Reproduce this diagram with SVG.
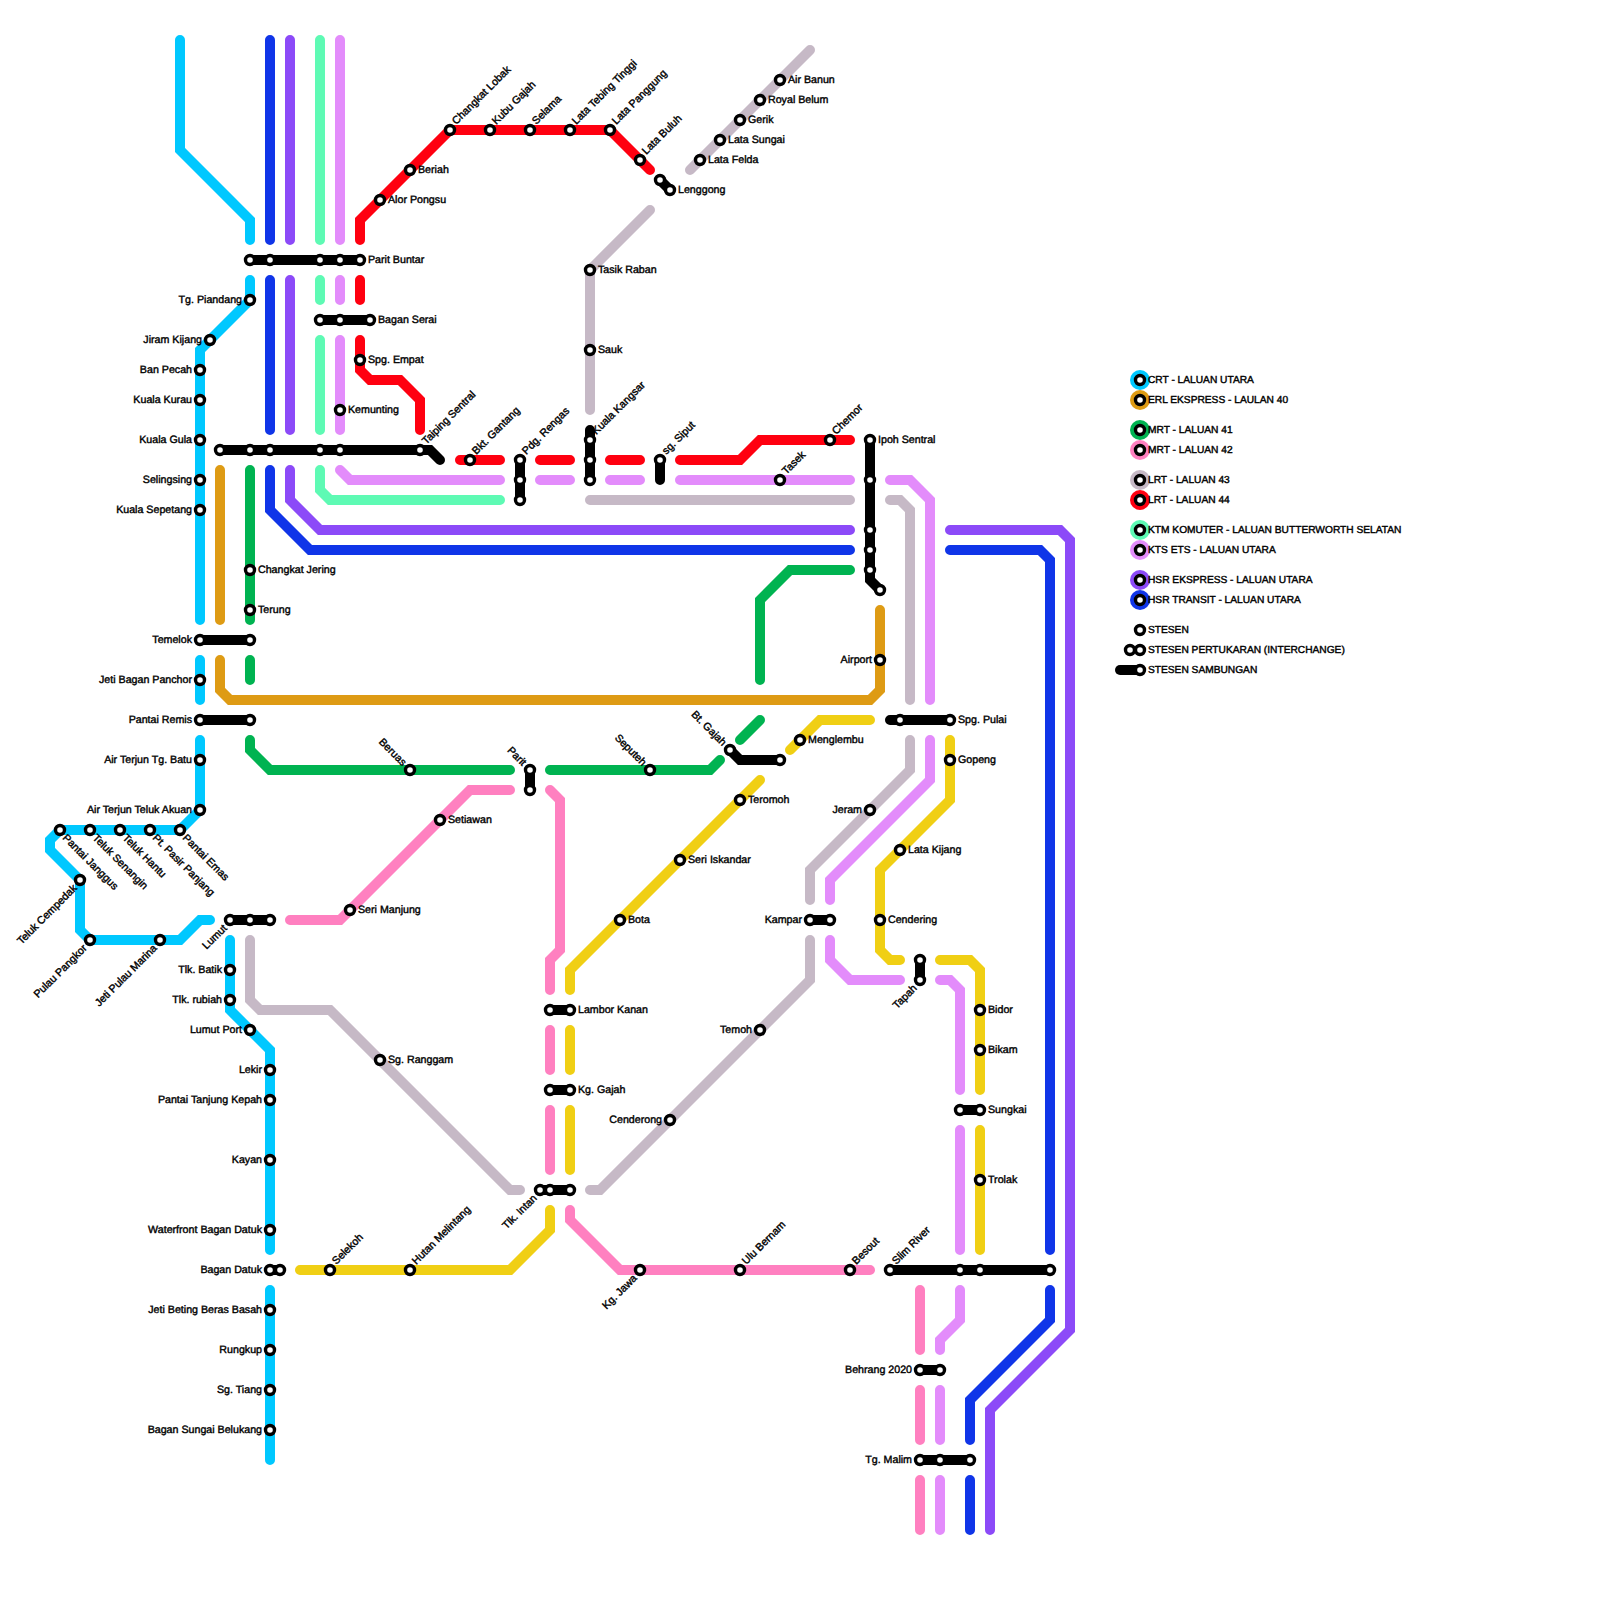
<svg xmlns="http://www.w3.org/2000/svg" width="1600" height="1600" viewBox="0 0 1600 1600">
<style>
text{font-family:"Liberation Sans",Arial,sans-serif;font-size:10.67px;font-weight:400;fill:#000;stroke:#000;stroke-width:.4;text-rendering:geometricPrecision}
#legend text{font-size:10.2px}
.e{text-anchor:end}
.l{fill:none;stroke-width:10;stroke-linecap:round;stroke-linejoin:miter}
.crt{stroke:#00c8ff}.erl{stroke:#de9b14}.m41{stroke:#00b351}.m42{stroke:#ff80c0}.l43{stroke:#c6b9c6}.l44{stroke:#ff0010}.ktm{stroke:#5efab4}.kts{stroke:#e38cfb}.hse{stroke:#8c4af8}.hst{stroke:#1035e8}.blk{stroke:#000}
.s{fill:#fff;stroke:#000;stroke-width:3.4}
</style>
<rect width="1600" height="1600" fill="#fff"/>
<g id="connectors">
<path class="l crt" d="M180 40V150L250 220V240M250 280V300L200 350V620M200 660V700M200 740V810L180 830H60L50 840V850L80 880V930L90 940H180L200 920H210M230 940V1010L270 1050V1250M270 1290V1460"/>
<path class="l hst" d="M270 40V240M270 280V430M270 470V510L310 550H850M950 550H1040L1050 560V1250M1050 1290V1320L970 1400V1440M970 1480V1530"/>
<path class="l hse" d="M290 40V240M290 280V430M290 470V500L320 530H850M950 530H1060L1070 540V1330L990 1410V1530"/>
<path class="l ktm" d="M320 40V240M320 280V300M320 340V430M320 470V490L330 500H500"/>
<path class="l kts" d="M340 40V240M340 280V300M340 340V430M340 470L350 480H500M540 480H570M610 480H640M680 480H850M890 480H910L930 500V700M930 740V780L830 880V900M830 940V960L850 980H900M940 980H950L960 990V1090M960 1130V1250M960 1290V1320L940 1340V1350M940 1390V1440M940 1480V1530"/>
<path class="l l44" d="M360 240V220L450 130H610L650 170M360 280V300M360 340V370L370 380H400L420 400V430M460 460H500M540 460H570M610 460H640M680 460H740L760 440H850"/>
<path class="l l43" d="M810 50L690 170M650 210L590 270V410M590 500H850M890 500H900L910 510V700M910 740V770L810 870V900M810 940V980L600 1190H590M250 940V1000L260 1010H330L510 1190H520"/>
<path class="l erl" d="M220 470V620M220 660V690L230 700H870L880 690V610"/>
<path class="l m41" d="M250 470V620M250 660V680M250 740V750L270 770H510M550 770H710L720 760M740 740L760 720M760 680V600L790 570H850"/>
<path class="l m42" d="M290 920H340L470 790H510M550 790L560 800V950L550 960V990M550 1030V1070M550 1110V1170M570 1210V1220L620 1270H870M920 1290V1350M920 1390V1440M920 1480V1530"/>
<path class="l" style="stroke:#f0cf14" d="M790 750L820 720H870M760 780L570 970V990M570 1030V1070M570 1110V1170M550 1210V1230L510 1270H300M950 740V800L880 870V950L890 960H900M940 960H970L980 970V1090M980 1130V1250"/>
<path class="l blk" d="M250 260H360M320 320H370M220 450H430L440 460M200 640H250M200 720H250M230 920H270M520 460V500M590 430V480M660 460V480M660 180L670 190M530 770V790M550 1010H570M550 1090H570M540 1190H570M730 750L740 760H780M870 440V580L880 590M890 720H950M810 920H830M920 960V980M960 1110H980M890 1270H1050M920 1370H940M920 1460H970M270 1270H280"/>
</g>
<g id="n-tg-piandang"><circle class="s" cx="250" cy="300" r="4.5"/><text class="e" x="242" y="302.5">Tg. Piandang</text></g>
<g id="n-jiram-kijang"><circle class="s" cx="210" cy="340" r="4.5"/><text class="e" x="202" y="342.5">Jiram Kijang</text></g>
<g id="n-ban-pecah"><circle class="s" cx="200" cy="370" r="4.5"/><text class="e" x="192" y="372.5">Ban Pecah</text></g>
<g id="n-kuala-kurau"><circle class="s" cx="200" cy="400" r="4.5"/><text class="e" x="192" y="402.5">Kuala Kurau</text></g>
<g id="n-kuala-gula"><circle class="s" cx="200" cy="440" r="4.5"/><text class="e" x="192" y="442.5">Kuala Gula</text></g>
<g id="n-selingsing"><circle class="s" cx="200" cy="480" r="4.5"/><text class="e" x="192" y="482.5">Selingsing</text></g>
<g id="n-kuala-sepetang"><circle class="s" cx="200" cy="510" r="4.5"/><text class="e" x="192" y="512.5">Kuala Sepetang</text></g>
<g id="n-temelok"><circle class="s" cx="200" cy="640" r="4.5"/><circle class="s" cx="250" cy="640" r="4.5"/><text class="e" x="192" y="642.5">Temelok</text></g>
<g id="n-jeti-bagan-panchor"><circle class="s" cx="200" cy="680" r="4.5"/><text class="e" x="192" y="682.5">Jeti Bagan Panchor</text></g>
<g id="n-pantai-remis"><circle class="s" cx="200" cy="720" r="4.5"/><circle class="s" cx="250" cy="720" r="4.5"/><text class="e" x="192" y="722.5">Pantai Remis</text></g>
<g id="n-air-terjun-tg-batu"><circle class="s" cx="200" cy="760" r="4.5"/><text class="e" x="192" y="762.5">Air Terjun Tg. Batu</text></g>
<g id="n-air-terjun-teluk-akuan"><circle class="s" cx="200" cy="810" r="4.5"/><text class="e" x="192" y="812.5">Air Terjun Teluk Akuan</text></g>
<g id="n-pantai-emas"><circle class="s" cx="180" cy="830" r="4.5"/><text transform="translate(180 830) rotate(45)" x="7.5" y="4.5">Pantai Emas</text></g>
<g id="n-pt-pasir-panjang"><circle class="s" cx="150" cy="830" r="4.5"/><text transform="translate(150 830) rotate(45)" x="7.5" y="4.5">Pt. Pasir Panjang</text></g>
<g id="n-teluk-hantu"><circle class="s" cx="120" cy="830" r="4.5"/><text transform="translate(120 830) rotate(45)" x="7.5" y="4.5">Teluk Hantu</text></g>
<g id="n-teluk-senangin"><circle class="s" cx="90" cy="830" r="4.5"/><text transform="translate(90 830) rotate(45)" x="7.5" y="4.5">Teluk Senangin</text></g>
<g id="n-pantai-janggus"><circle class="s" cx="60" cy="830" r="4.5"/><text transform="translate(60 830) rotate(45)" x="7.5" y="4.5">Pantai Janggus</text></g>
<g id="n-teluk-cempedak"><circle class="s" cx="80" cy="880" r="4.5"/><text class="e" transform="translate(80 880) rotate(-45)" x="-8" y="4.5">Teluk Cempedak</text></g>
<g id="n-pulau-pangkor"><circle class="s" cx="90" cy="940" r="4.5"/><text class="e" transform="translate(90 940) rotate(-45)" x="-8" y="4.5">Pulau Pangkor</text></g>
<g id="n-jeti-pulau-marina"><circle class="s" cx="160" cy="940" r="4.5"/><text class="e" transform="translate(160 940) rotate(-45)" x="-8" y="4.5">Jeti Pulau Marina</text></g>
<g id="n-lumut"><circle class="s" cx="230" cy="920" r="4.5"/><circle class="s" cx="250" cy="920" r="4.5"/><circle class="s" cx="270" cy="920" r="4.5"/><text class="e" transform="translate(230 920) rotate(-45)" x="-8" y="4.5">Lumut</text></g>
<g id="n-tlk-batik"><circle class="s" cx="230" cy="970" r="4.5"/><text class="e" x="222" y="972.5">Tlk. Batik</text></g>
<g id="n-tlk-rubiah"><circle class="s" cx="230" cy="1000" r="4.5"/><text class="e" x="222" y="1002.5">Tlk. rubiah</text></g>
<g id="n-lumut-port"><circle class="s" cx="250" cy="1030" r="4.5"/><text class="e" x="242" y="1032.5">Lumut Port</text></g>
<g id="n-lekir"><circle class="s" cx="270" cy="1070" r="4.5"/><text class="e" x="262" y="1072.5">Lekir</text></g>
<g id="n-pantai-tanjung-kepah"><circle class="s" cx="270" cy="1100" r="4.5"/><text class="e" x="262" y="1102.5">Pantai Tanjung Kepah</text></g>
<g id="n-kayan"><circle class="s" cx="270" cy="1160" r="4.5"/><text class="e" x="262" y="1162.5">Kayan</text></g>
<g id="n-waterfront"><circle class="s" cx="270" cy="1230" r="4.5"/><text class="e" x="262" y="1232.5">Waterfront Bagan Datuk</text></g>
<g id="n-bagan-datuk"><circle class="s" cx="270" cy="1270" r="4.5"/><circle class="s" cx="280" cy="1270" r="4.5"/><text class="e" x="262" y="1272.5">Bagan Datuk</text></g>
<g id="n-jeti-beting"><circle class="s" cx="270" cy="1310" r="4.5"/><text class="e" x="262" y="1312.5">Jeti Beting Beras Basah</text></g>
<g id="n-rungkup"><circle class="s" cx="270" cy="1350" r="4.5"/><text class="e" x="262" y="1352.5">Rungkup</text></g>
<g id="n-sg-tiang"><circle class="s" cx="270" cy="1390" r="4.5"/><text class="e" x="262" y="1392.5">Sg. Tiang</text></g>
<g id="n-bagan-sungai-belukang"><circle class="s" cx="270" cy="1430" r="4.5"/><text class="e" x="262" y="1432.5">Bagan Sungai Belukang</text></g>
<g id="n-parit-buntar"><circle class="s" cx="250" cy="260" r="4.5"/><circle class="s" cx="270" cy="260" r="4.5"/><circle class="s" cx="320" cy="260" r="4.5"/><circle class="s" cx="340" cy="260" r="4.5"/><circle class="s" cx="360" cy="260" r="4.5"/><text x="368" y="262.5">Parit Buntar</text></g>
<g id="n-bagan-serai"><circle class="s" cx="320" cy="320" r="4.5"/><circle class="s" cx="340" cy="320" r="4.5"/><circle class="s" cx="370" cy="320" r="4.5"/><text x="378" y="322.5">Bagan Serai</text></g>
<g id="n-spg-empat"><circle class="s" cx="360" cy="360" r="4.5"/><text x="368" y="362.5">Spg. Empat</text></g>
<g id="n-kemunting"><circle class="s" cx="340" cy="410" r="4.5"/><text x="348" y="412.5">Kemunting</text></g>
<g id="n-taiping-sentral"><circle class="s" cx="220" cy="450" r="4.5"/><circle class="s" cx="250" cy="450" r="4.5"/><circle class="s" cx="270" cy="450" r="4.5"/><circle class="s" cx="320" cy="450" r="4.5"/><circle class="s" cx="340" cy="450" r="4.5"/><circle class="s" cx="420" cy="450" r="4.5"/><text transform="translate(420 450) rotate(-45)" x="8" y="1">Taiping Sentral</text></g>
<g id="n-alor-pongsu"><circle class="s" cx="380" cy="200" r="4.5"/><text x="388" y="202.5">Alor Pongsu</text></g>
<g id="n-beriah"><circle class="s" cx="410" cy="170" r="4.5"/><text x="418" y="172.5">Beriah</text></g>
<g id="n-changkat-lobak"><circle class="s" cx="450" cy="130" r="4.5"/><text transform="translate(450 130) rotate(-45)" x="8" y="1">Changkat Lobak</text></g>
<g id="n-kubu-gajah"><circle class="s" cx="490" cy="130" r="4.5"/><text transform="translate(490 130) rotate(-45)" x="8" y="1">Kubu Gajah</text></g>
<g id="n-selama"><circle class="s" cx="530" cy="130" r="4.5"/><text transform="translate(530 130) rotate(-45)" x="8" y="1">Selama</text></g>
<g id="n-lata-tebing-tinggi"><circle class="s" cx="570" cy="130" r="4.5"/><text transform="translate(570 130) rotate(-45)" x="8" y="1">Lata Tebing Tinggi</text></g>
<g id="n-lata-panggung"><circle class="s" cx="610" cy="130" r="4.5"/><text transform="translate(610 130) rotate(-45)" x="8" y="1">Lata Panggung</text></g>
<g id="n-lata-buluh"><circle class="s" cx="640" cy="160" r="4.5"/><text transform="translate(640 160) rotate(-45)" x="8" y="1">Lata Buluh</text></g>
<g id="n-lenggong"><circle class="s" cx="660" cy="180" r="4.5"/><circle class="s" cx="670" cy="190" r="4.5"/><text x="678" y="192.5">Lenggong</text></g>
<g id="n-lata-felda"><circle class="s" cx="700" cy="160" r="4.5"/><text x="708" y="162.5">Lata Felda</text></g>
<g id="n-lata-sungai"><circle class="s" cx="720" cy="140" r="4.5"/><text x="728" y="142.5">Lata Sungai</text></g>
<g id="n-gerik"><circle class="s" cx="740" cy="120" r="4.5"/><text x="748" y="122.5">Gerik</text></g>
<g id="n-royal-belum"><circle class="s" cx="760" cy="100" r="4.5"/><text x="768" y="102.5">Royal Belum</text></g>
<g id="n-air-banun"><circle class="s" cx="780" cy="80" r="4.5"/><text x="788" y="82.5">Air Banun</text></g>
<g id="n-tasik-raban"><circle class="s" cx="590" cy="270" r="4.5"/><text x="598" y="272.5">Tasik Raban</text></g>
<g id="n-sauk"><circle class="s" cx="590" cy="350" r="4.5"/><text x="598" y="352.5">Sauk</text></g>
<g id="n-bkt-gantang"><circle class="s" cx="470" cy="460" r="4.5"/><text transform="translate(470 460) rotate(-45)" x="8" y="1">Bkt. Gantang</text></g>
<g id="n-pdg-rengas"><circle class="s" cx="520" cy="460" r="4.5"/><circle class="s" cx="520" cy="480" r="4.5"/><circle class="s" cx="520" cy="500" r="4.5"/><text transform="translate(520 460) rotate(-45)" x="8" y="1">Pdg. Rengas</text></g>
<g id="n-kuala-kangsar"><circle class="s" cx="590" cy="440" r="4.5"/><circle class="s" cx="590" cy="460" r="4.5"/><circle class="s" cx="590" cy="480" r="4.5"/><text transform="translate(590 440) rotate(-45)" x="8" y="1">Kuala Kangsar</text></g>
<g id="n-sg-siput"><circle class="s" cx="660" cy="460" r="4.5"/><text transform="translate(660 460) rotate(-45)" x="8" y="1">sg. Siput</text></g>
<g id="n-chemor"><circle class="s" cx="830" cy="440" r="4.5"/><text transform="translate(830 440) rotate(-45)" x="8" y="1">Chemor</text></g>
<g id="n-tasek"><circle class="s" cx="780" cy="480" r="4.5"/><text transform="translate(780 480) rotate(-45)" x="8" y="1">Tasek</text></g>
<g id="n-ipoh-sentral"><circle class="s" cx="870" cy="440" r="4.5"/><circle class="s" cx="870" cy="480" r="4.5"/><circle class="s" cx="870" cy="530" r="4.5"/><circle class="s" cx="870" cy="550" r="4.5"/><circle class="s" cx="870" cy="570" r="4.5"/><circle class="s" cx="880" cy="590" r="4.5"/><text x="878" y="442.5">Ipoh Sentral</text></g>
<g id="n-changkat-jering"><circle class="s" cx="250" cy="570" r="4.5"/><text x="258" y="572.5">Changkat Jering</text></g>
<g id="n-terung"><circle class="s" cx="250" cy="610" r="4.5"/><text x="258" y="612.5">Terung</text></g>
<g id="n-airport"><circle class="s" cx="880" cy="660" r="4.5"/><text class="e" x="872" y="662.5">Airport</text></g>
<g id="n-spg-pulai"><circle class="s" cx="900" cy="720" r="4.5"/><circle class="s" cx="950" cy="720" r="4.5"/><text x="958" y="722.5">Spg. Pulai</text></g>
<g id="n-gopeng"><circle class="s" cx="950" cy="760" r="4.5"/><text x="958" y="762.5">Gopeng</text></g>
<g id="n-menglembu"><circle class="s" cx="800" cy="740" r="4.5"/><text x="808" y="742.5">Menglembu</text></g>
<g id="n-bt-gajah"><circle class="s" cx="730" cy="750" r="4.5"/><circle class="s" cx="780" cy="760" r="4.5"/><text class="e" transform="translate(730 750) rotate(45)" x="-8" y="3">Bt. Gajah</text></g>
<g id="n-seputeh"><circle class="s" cx="650" cy="770" r="4.5"/><text class="e" transform="translate(650 770) rotate(45)" x="-8" y="3">Seputeh</text></g>
<g id="n-parit"><circle class="s" cx="530" cy="770" r="4.5"/><circle class="s" cx="530" cy="790" r="4.5"/><text class="e" transform="translate(530 770) rotate(45)" x="-8" y="3">Parit</text></g>
<g id="n-beruas"><circle class="s" cx="410" cy="770" r="4.5"/><text class="e" transform="translate(410 770) rotate(45)" x="-8" y="3">Beruas</text></g>
<g id="n-teromoh"><circle class="s" cx="740" cy="800" r="4.5"/><text x="748" y="802.5">Teromoh</text></g>
<g id="n-seri-iskandar"><circle class="s" cx="680" cy="860" r="4.5"/><text x="688" y="862.5">Seri Iskandar</text></g>
<g id="n-bota"><circle class="s" cx="620" cy="920" r="4.5"/><text x="628" y="922.5">Bota</text></g>
<g id="n-setiawan"><circle class="s" cx="440" cy="820" r="4.5"/><text x="448" y="822.5">Setiawan</text></g>
<g id="n-seri-manjung"><circle class="s" cx="350" cy="910" r="4.5"/><text x="358" y="912.5">Seri Manjung</text></g>
<g id="n-sg-ranggam"><circle class="s" cx="380" cy="1060" r="4.5"/><text x="388" y="1062.5">Sg. Ranggam</text></g>
<g id="n-jeram"><circle class="s" cx="870" cy="810" r="4.5"/><text class="e" x="862" y="812.5">Jeram</text></g>
<g id="n-lata-kijang"><circle class="s" cx="900" cy="850" r="4.5"/><text x="908" y="852.5">Lata Kijang</text></g>
<g id="n-kampar"><circle class="s" cx="810" cy="920" r="4.5"/><circle class="s" cx="830" cy="920" r="4.5"/><text class="e" x="802" y="922.5">Kampar</text></g>
<g id="n-cendering"><circle class="s" cx="880" cy="920" r="4.5"/><text x="888" y="922.5">Cendering</text></g>
<g id="n-tapah"><circle class="s" cx="920" cy="960" r="4.5"/><circle class="s" cx="920" cy="980" r="4.5"/><text class="e" transform="translate(920 980) rotate(-45)" x="-8" y="4.5">Tapah</text></g>
<g id="n-bidor"><circle class="s" cx="980" cy="1010" r="4.5"/><text x="988" y="1012.5">Bidor</text></g>
<g id="n-bikam"><circle class="s" cx="980" cy="1050" r="4.5"/><text x="988" y="1052.5">Bikam</text></g>
<g id="n-sungkai"><circle class="s" cx="960" cy="1110" r="4.5"/><circle class="s" cx="980" cy="1110" r="4.5"/><text x="988" y="1112.5">Sungkai</text></g>
<g id="n-trolak"><circle class="s" cx="980" cy="1180" r="4.5"/><text x="988" y="1182.5">Trolak</text></g>
<g id="n-lambor-kanan"><circle class="s" cx="550" cy="1010" r="4.5"/><circle class="s" cx="570" cy="1010" r="4.5"/><text x="578" y="1012.5">Lambor Kanan</text></g>
<g id="n-kg-gajah"><circle class="s" cx="550" cy="1090" r="4.5"/><circle class="s" cx="570" cy="1090" r="4.5"/><text x="578" y="1092.5">Kg. Gajah</text></g>
<g id="n-temoh"><circle class="s" cx="760" cy="1030" r="4.5"/><text class="e" x="752" y="1032.5">Temoh</text></g>
<g id="n-cenderong"><circle class="s" cx="670" cy="1120" r="4.5"/><text class="e" x="662" y="1122.5">Cenderong</text></g>
<g id="n-tlk-intan"><circle class="s" cx="540" cy="1190" r="4.5"/><circle class="s" cx="550" cy="1190" r="4.5"/><circle class="s" cx="570" cy="1190" r="4.5"/><text class="e" transform="translate(540 1190) rotate(-45)" x="-8" y="4.5">Tlk. Intan</text></g>
<g id="n-selekoh"><circle class="s" cx="330" cy="1270" r="4.5"/><text transform="translate(330 1270) rotate(-45)" x="8" y="1">Selekoh</text></g>
<g id="n-hutan-melintang"><circle class="s" cx="410" cy="1270" r="4.5"/><text transform="translate(410 1270) rotate(-45)" x="8" y="1">Hutan Melintang</text></g>
<g id="n-kg-jawa"><circle class="s" cx="640" cy="1270" r="4.5"/><text class="e" transform="translate(640 1270) rotate(-45)" x="-8" y="4.5">Kg. Jawa</text></g>
<g id="n-ulu-bernam"><circle class="s" cx="740" cy="1270" r="4.5"/><text transform="translate(740 1270) rotate(-45)" x="8" y="1">Ulu Bernam</text></g>
<g id="n-besout"><circle class="s" cx="850" cy="1270" r="4.5"/><text transform="translate(850 1270) rotate(-45)" x="8" y="1">Besout</text></g>
<g id="n-slim-river"><circle class="s" cx="890" cy="1270" r="4.5"/><circle class="s" cx="960" cy="1270" r="4.5"/><circle class="s" cx="980" cy="1270" r="4.5"/><circle class="s" cx="1050" cy="1270" r="4.5"/><text transform="translate(890 1270) rotate(-45)" x="8" y="1">Slim River</text></g>
<g id="n-behrang"><circle class="s" cx="920" cy="1370" r="4.5"/><circle class="s" cx="940" cy="1370" r="4.5"/><text class="e" x="912" y="1372.5">Behrang 2020</text></g>
<g id="n-tg-malim"><circle class="s" cx="920" cy="1460" r="4.5"/><circle class="s" cx="940" cy="1460" r="4.5"/><circle class="s" cx="970" cy="1460" r="4.5"/><text class="e" x="912" y="1462.5">Tg. Malim</text></g>
<g id="legend">
<circle cx="1140" cy="380" r="10" fill="#00c8ff"/><circle class="s" cx="1140" cy="380" r="4.5"/><text x="1148" y="382.5">CRT - LALUAN UTARA</text>
<circle cx="1140" cy="400" r="10" fill="#de9b14"/><circle class="s" cx="1140" cy="400" r="4.5"/><text x="1148" y="402.5">ERL EKSPRESS - LAULAN 40</text>
<circle cx="1140" cy="430" r="10" fill="#00b351"/><circle class="s" cx="1140" cy="430" r="4.5"/><text x="1148" y="432.5">MRT - LALUAN 41</text>
<circle cx="1140" cy="450" r="10" fill="#ff80c0"/><circle class="s" cx="1140" cy="450" r="4.5"/><text x="1148" y="452.5">MRT - LALUAN 42</text>
<circle cx="1140" cy="480" r="10" fill="#c6b9c6"/><circle class="s" cx="1140" cy="480" r="4.5"/><text x="1148" y="482.5">LRT - LALUAN 43</text>
<circle cx="1140" cy="500" r="10" fill="#ff0010"/><circle class="s" cx="1140" cy="500" r="4.5"/><text x="1148" y="502.5">LRT - LALUAN 44</text>
<circle cx="1140" cy="530" r="10" fill="#5efab4"/><circle class="s" cx="1140" cy="530" r="4.5"/><text x="1148" y="532.5">KTM KOMUTER - LALUAN BUTTERWORTH SELATAN</text>
<circle cx="1140" cy="550" r="10" fill="#e38cfb"/><circle class="s" cx="1140" cy="550" r="4.5"/><text x="1148" y="552.5">KTS ETS - LALUAN UTARA</text>
<circle cx="1140" cy="580" r="10" fill="#8c4af8"/><circle class="s" cx="1140" cy="580" r="4.5"/><text x="1148" y="582.5">HSR EKSPRESS - LALUAN UTARA</text>
<circle cx="1140" cy="600" r="10" fill="#1035e8"/><circle class="s" cx="1140" cy="600" r="4.5"/><text x="1148" y="602.5">HSR TRANSIT - LALUAN UTARA</text>
<circle class="s" cx="1140" cy="630" r="4.5"/><text x="1148" y="632.5">STESEN</text>
<circle class="s" cx="1130" cy="650" r="4.5"/><circle class="s" cx="1140" cy="650" r="4.5"/><text x="1148" y="652.5">STESEN PERTUKARAN (INTERCHANGE)</text>
<path class="l blk" d="M1120 670H1140"/><circle class="s" cx="1140" cy="670" r="4.5"/><text x="1148" y="672.5">STESEN SAMBUNGAN</text>
</g>
</svg>
